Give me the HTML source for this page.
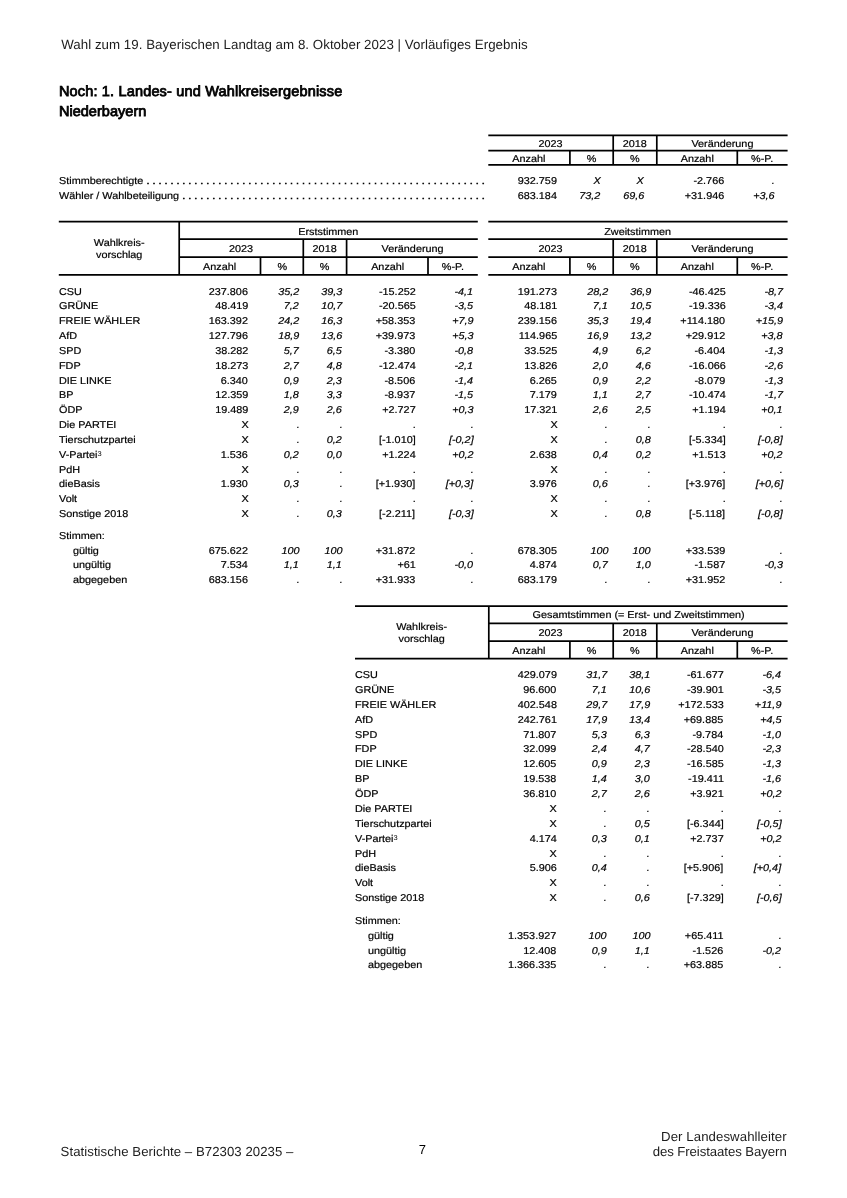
<!DOCTYPE html>
<html lang="de">
<head>
<meta charset="utf-8">
<title>Wahl zum 19. Bayerischen Landtag – Niederbayern</title>
<style>
html,body{margin:0;padding:0;background:#fff}
#pg{position:relative;width:847px;height:1198px;overflow:hidden;background:#fff;color:#000;font-family:"Liberation Sans",sans-serif;font-size:9.95px;line-height:14px;-webkit-text-stroke:.2px #000;text-rendering:geometricPrecision}
#pg div,#pg span{position:absolute;white-space:nowrap}
.hd{left:61.2px;top:36.8px;font-size:13.3px;line-height:16px;color:#1c1c1c;letter-spacing:.04px;-webkit-text-stroke:0}
.t1{left:58.9px;top:83.9px;font-size:14.5px;line-height:16px;-webkit-text-stroke:.8px #000;letter-spacing:.17px}
.t2{left:58.9px;top:104.4px;font-size:14.5px;line-height:16px;-webkit-text-stroke:.8px #000;letter-spacing:.04px}
.ft{font-size:13.2px;line-height:16px;color:#1c1c1c;-webkit-text-stroke:0}
#ln{position:absolute;left:0;top:0}
.r{left:0;width:847px;height:14px}
.r span{transform:scaleX(1.09);transform-origin:100% 50%}
.r .la,.r .lai,.r .lc,.r .lci{transform-origin:0 50%}
.h{text-align:center;height:14px;transform:scaleX(1.09)}
.la{left:59.2px}.lai{left:73.1px}
.lc{left:354.6px}.lci{left:368.2px}
.a1{right:598.7px}.a2{right:547.7px;font-style:italic}.a3{right:504.7px;font-style:italic}.a4{right:431.6px}.a5{right:373.5px;font-style:italic}
.b1{right:289.7px}.b2{right:238.8px;font-style:italic}.b3{right:196.1px;font-style:italic}.b4{right:121.6px}.b5{right:64.2px;font-style:italic}
.c1{right:290.4px}.c2{right:240px;font-style:italic}.c3{right:196.8px;font-style:italic}.c4{right:123.5px}.c5{right:65.7px;font-style:italic}
.s1{right:290.3px}.s2{right:246.6px;font-style:italic}.s3{right:203.1px;font-style:italic}.s4{right:122.6px}.s5{right:72px;font-style:italic}
sup{font-size:6.9px;line-height:0;vertical-align:2.1px;-webkit-text-stroke:0}
.dots{left:59.2px;width:425.7px;height:14px;overflow:hidden}
.dots i{position:absolute;right:0;font-style:normal;-webkit-text-stroke:.5px #000;word-spacing:-.03px;transform:scaleX(1.09);transform-origin:100% 50%}
.dots b{position:absolute;left:0;font-weight:normal;background:#fff;padding-right:2.5px;transform:scaleX(1.09);transform-origin:0 50%}
</style>
</head>
<body>
<div id="pg">
<svg id="ln" width="847" height="1198" viewBox="0 0 847 1198"><path d="M488.3 135.45H787.6M488.3 150.6H787.6M488.3 164.8H787.6M613.2 135.45V164.8M656.8 135.45V164.8M569.9 150.6V164.8M737.3 150.6V164.8M58.8 221.6H477.8M179.2 239.15H477.8M179.2 257.1H477.8M58.8 274.95H477.8M179.2 221.6V274.95M303.3 239.15V274.95M346.6 239.15V274.95M260.5 257.1V274.95M428 257.1V274.95M488.3 221.6H787.6M488.3 239.15H787.6M488.3 257.1H787.6M488.3 274.95H787.6M613.2 239.15V274.95M656.8 239.15V274.95M569.9 257.1V274.95M737.3 257.1V274.95M355 606.1H787.6M488.3 623.4H787.6M488.3 641.1H787.6M355 658.7H787.6M488.8 606.1V658.7M613.2 623.4V658.7M656.8 623.4V658.7M569.9 641.1V658.7M737.3 641.1V658.7" fill="none" stroke="#000" stroke-width="1.7"/></svg>
<div class="hd">Wahl zum 19. Bayerischen Landtag am 8. Oktober 2023 | Vorläufiges Ergebnis</div>
<div class="t1">Noch: 1. Landes- und Wahlkreisergebnisse</div>
<div class="t2">Niederbayern</div>
<div class="h" style="left:488.3px;width:124.9px;top:138px">2023</div>
<div class="h" style="left:613.2px;width:43.6px;top:138px">2018</div>
<div class="h" style="left:656.8px;width:130.8px;top:138px">Veränderung</div>
<div class="h" style="left:488.3px;width:81.6px;top:153px">Anzahl</div>
<div class="h" style="left:569.9px;width:43.3px;top:153px">%</div>
<div class="h" style="left:613.2px;width:43.6px;top:153px">%</div>
<div class="h" style="left:656.8px;width:80.5px;top:153px">Anzahl</div>
<div class="h" style="left:737.3px;width:50.3px;top:153px">%-P.</div>
<div class="dots" style="top:175px"><i>. . . . . . . . . . . . . . . . . . . . . . . . . . . . . . . . . . . . . . . . . . . . . . . . . . . . . . . . . . . . . . . . . . . . . . . .</i><b>Stimmberechtigte</b></div>
<div class="r" style="top:175px"><span class="s1">932.759</span><span class="s2">X</span><span class="s3">X</span><span class="s4">-2.766</span><span class="s5">.</span></div>
<div class="dots" style="top:190px"><i>. . . . . . . . . . . . . . . . . . . . . . . . . . . . . . . . . . . . . . . . . . . . . . . . . . . . . . . . . . . . . . . . . . . . . . . .</i><b>Wähler / Wahlbeteiligung</b></div>
<div class="r" style="top:190px"><span class="s1">683.184</span><span class="s2">73,2</span><span class="s3">69,6</span><span class="s4">+31.946</span><span class="s5">+3,6</span></div>
<div class="h" style="left:58.8px;width:120.4px;top:237px">Wahlkreis-</div>
<div class="h" style="left:58.8px;width:120.4px;top:249px">vorschlag</div>
<div class="h" style="left:179.2px;width:298.6px;top:226px">Erststimmen</div>
<div class="h" style="left:179.2px;width:124.1px;top:243px">2023</div>
<div class="h" style="left:303.3px;width:43.3px;top:243px">2018</div>
<div class="h" style="left:346.6px;width:131.2px;top:243px">Veränderung</div>
<div class="h" style="left:179.2px;width:81.3px;top:261px">Anzahl</div>
<div class="h" style="left:260.5px;width:42.8px;top:261px">%</div>
<div class="h" style="left:303.3px;width:43.3px;top:261px">%</div>
<div class="h" style="left:346.6px;width:81.4px;top:261px">Anzahl</div>
<div class="h" style="left:428px;width:49.8px;top:261px">%-P.</div>
<div class="h" style="left:488.3px;width:299.3px;top:226px">Zweitstimmen</div>
<div class="h" style="left:488.3px;width:124.9px;top:243px">2023</div>
<div class="h" style="left:613.2px;width:43.6px;top:243px">2018</div>
<div class="h" style="left:656.8px;width:130.8px;top:243px">Veränderung</div>
<div class="h" style="left:488.3px;width:81.6px;top:261px">Anzahl</div>
<div class="h" style="left:569.9px;width:43.3px;top:261px">%</div>
<div class="h" style="left:613.2px;width:43.6px;top:261px">%</div>
<div class="h" style="left:656.8px;width:80.5px;top:261px">Anzahl</div>
<div class="h" style="left:737.3px;width:50.3px;top:261px">%-P.</div>
<div class="r" style="top:286px"><span class="la">CSU</span><span class="a1">237.806</span><span class="a2">35,2</span><span class="a3">39,3</span><span class="a4">-15.252</span><span class="a5">-4,1</span></div>
<div class="r" style="top:300px"><span class="la">GRÜNE</span><span class="a1">48.419</span><span class="a2">7,2</span><span class="a3">10,7</span><span class="a4">-20.565</span><span class="a5">-3,5</span></div>
<div class="r" style="top:315px"><span class="la">FREIE WÄHLER</span><span class="a1">163.392</span><span class="a2">24,2</span><span class="a3">16,3</span><span class="a4">+58.353</span><span class="a5">+7,9</span></div>
<div class="r" style="top:330px"><span class="la">AfD</span><span class="a1">127.796</span><span class="a2">18,9</span><span class="a3">13,6</span><span class="a4">+39.973</span><span class="a5">+5,3</span></div>
<div class="r" style="top:345px"><span class="la">SPD</span><span class="a1">38.282</span><span class="a2">5,7</span><span class="a3">6,5</span><span class="a4">-3.380</span><span class="a5">-0,8</span></div>
<div class="r" style="top:360px"><span class="la">FDP</span><span class="a1">18.273</span><span class="a2">2,7</span><span class="a3">4,8</span><span class="a4">-12.474</span><span class="a5">-2,1</span></div>
<div class="r" style="top:375px"><span class="la">DIE LINKE</span><span class="a1">6.340</span><span class="a2">0,9</span><span class="a3">2,3</span><span class="a4">-8.506</span><span class="a5">-1,4</span></div>
<div class="r" style="top:389px"><span class="la">BP</span><span class="a1">12.359</span><span class="a2">1,8</span><span class="a3">3,3</span><span class="a4">-8.937</span><span class="a5">-1,5</span></div>
<div class="r" style="top:404px"><span class="la">ÖDP</span><span class="a1">19.489</span><span class="a2">2,9</span><span class="a3">2,6</span><span class="a4">+2.727</span><span class="a5">+0,3</span></div>
<div class="r" style="top:419px"><span class="la">Die PARTEI</span><span class="a1">X</span><span class="a2">.</span><span class="a3">.</span><span class="a4">.</span><span class="a5">.</span></div>
<div class="r" style="top:434px"><span class="la">Tierschutzpartei</span><span class="a1">X</span><span class="a2">.</span><span class="a3">0,2</span><span class="a4">[-1.010]</span><span class="a5">[-0,2]</span></div>
<div class="r" style="top:449px"><span class="la">V-Partei<sup>3</sup></span><span class="a1">1.536</span><span class="a2">0,2</span><span class="a3">0,0</span><span class="a4">+1.224</span><span class="a5">+0,2</span></div>
<div class="r" style="top:464px"><span class="la">PdH</span><span class="a1">X</span><span class="a2">.</span><span class="a3">.</span><span class="a4">.</span><span class="a5">.</span></div>
<div class="r" style="top:478px"><span class="la">dieBasis</span><span class="a1">1.930</span><span class="a2">0,3</span><span class="a3">.</span><span class="a4">[+1.930]</span><span class="a5">[+0,3]</span></div>
<div class="r" style="top:493px"><span class="la">Volt</span><span class="a1">X</span><span class="a2">.</span><span class="a3">.</span><span class="a4">.</span><span class="a5">.</span></div>
<div class="r" style="top:508px"><span class="la">Sonstige 2018</span><span class="a1">X</span><span class="a2">.</span><span class="a3">0,3</span><span class="a4">[-2.211]</span><span class="a5">[-0,3]</span></div>
<div class="r" style="top:530px"><span class="la">Stimmen:</span></div>
<div class="r" style="top:545px"><span class="lai">gültig</span><span class="a1">675.622</span><span class="a2">100</span><span class="a3">100</span><span class="a4">+31.872</span><span class="a5">.</span></div>
<div class="r" style="top:559px"><span class="lai">ungültig</span><span class="a1">7.534</span><span class="a2">1,1</span><span class="a3">1,1</span><span class="a4">+61</span><span class="a5">-0,0</span></div>
<div class="r" style="top:574px"><span class="lai">abgegeben</span><span class="a1">683.156</span><span class="a2">.</span><span class="a3">.</span><span class="a4">+31.933</span><span class="a5">.</span></div>
<div class="r" style="top:286px"><span class="b1">191.273</span><span class="b2">28,2</span><span class="b3">36,9</span><span class="b4">-46.425</span><span class="b5">-8,7</span></div>
<div class="r" style="top:300px"><span class="b1">48.181</span><span class="b2">7,1</span><span class="b3">10,5</span><span class="b4">-19.336</span><span class="b5">-3,4</span></div>
<div class="r" style="top:315px"><span class="b1">239.156</span><span class="b2">35,3</span><span class="b3">19,4</span><span class="b4">+114.180</span><span class="b5">+15,9</span></div>
<div class="r" style="top:330px"><span class="b1">114.965</span><span class="b2">16,9</span><span class="b3">13,2</span><span class="b4">+29.912</span><span class="b5">+3,8</span></div>
<div class="r" style="top:345px"><span class="b1">33.525</span><span class="b2">4,9</span><span class="b3">6,2</span><span class="b4">-6.404</span><span class="b5">-1,3</span></div>
<div class="r" style="top:360px"><span class="b1">13.826</span><span class="b2">2,0</span><span class="b3">4,6</span><span class="b4">-16.066</span><span class="b5">-2,6</span></div>
<div class="r" style="top:375px"><span class="b1">6.265</span><span class="b2">0,9</span><span class="b3">2,2</span><span class="b4">-8.079</span><span class="b5">-1,3</span></div>
<div class="r" style="top:389px"><span class="b1">7.179</span><span class="b2">1,1</span><span class="b3">2,7</span><span class="b4">-10.474</span><span class="b5">-1,7</span></div>
<div class="r" style="top:404px"><span class="b1">17.321</span><span class="b2">2,6</span><span class="b3">2,5</span><span class="b4">+1.194</span><span class="b5">+0,1</span></div>
<div class="r" style="top:419px"><span class="b1">X</span><span class="b2">.</span><span class="b3">.</span><span class="b4">.</span><span class="b5">.</span></div>
<div class="r" style="top:434px"><span class="b1">X</span><span class="b2">.</span><span class="b3">0,8</span><span class="b4">[-5.334]</span><span class="b5">[-0,8]</span></div>
<div class="r" style="top:449px"><span class="b1">2.638</span><span class="b2">0,4</span><span class="b3">0,2</span><span class="b4">+1.513</span><span class="b5">+0,2</span></div>
<div class="r" style="top:464px"><span class="b1">X</span><span class="b2">.</span><span class="b3">.</span><span class="b4">.</span><span class="b5">.</span></div>
<div class="r" style="top:478px"><span class="b1">3.976</span><span class="b2">0,6</span><span class="b3">.</span><span class="b4">[+3.976]</span><span class="b5">[+0,6]</span></div>
<div class="r" style="top:493px"><span class="b1">X</span><span class="b2">.</span><span class="b3">.</span><span class="b4">.</span><span class="b5">.</span></div>
<div class="r" style="top:508px"><span class="b1">X</span><span class="b2">.</span><span class="b3">0,8</span><span class="b4">[-5.118]</span><span class="b5">[-0,8]</span></div>
<div class="r" style="top:545px"><span class="b1">678.305</span><span class="b2">100</span><span class="b3">100</span><span class="b4">+33.539</span><span class="b5">.</span></div>
<div class="r" style="top:559px"><span class="b1">4.874</span><span class="b2">0,7</span><span class="b3">1,0</span><span class="b4">-1.587</span><span class="b5">-0,3</span></div>
<div class="r" style="top:574px"><span class="b1">683.179</span><span class="b2">.</span><span class="b3">.</span><span class="b4">+31.952</span><span class="b5">.</span></div>
<div class="h" style="left:355px;width:133.3px;top:621px">Wahlkreis-</div>
<div class="h" style="left:355px;width:133.3px;top:633px">vorschlag</div>
<div class="h" style="left:490.3px;width:297.3px;top:609px">Gesamtstimmen (= Erst- und Zweitstimmen)</div>
<div class="h" style="left:488.3px;width:124.9px;top:627px">2023</div>
<div class="h" style="left:613.2px;width:43.6px;top:627px">2018</div>
<div class="h" style="left:656.8px;width:130.8px;top:627px">Veränderung</div>
<div class="h" style="left:488.3px;width:81.6px;top:645px">Anzahl</div>
<div class="h" style="left:569.9px;width:43.3px;top:645px">%</div>
<div class="h" style="left:613.2px;width:43.6px;top:645px">%</div>
<div class="h" style="left:656.8px;width:80.5px;top:645px">Anzahl</div>
<div class="h" style="left:737.3px;width:50.3px;top:645px">%-P.</div>
<div class="r" style="top:669px"><span class="lc">CSU</span><span class="c1">429.079</span><span class="c2">31,7</span><span class="c3">38,1</span><span class="c4">-61.677</span><span class="c5">-6,4</span></div>
<div class="r" style="top:684px"><span class="lc">GRÜNE</span><span class="c1">96.600</span><span class="c2">7,1</span><span class="c3">10,6</span><span class="c4">-39.901</span><span class="c5">-3,5</span></div>
<div class="r" style="top:699px"><span class="lc">FREIE WÄHLER</span><span class="c1">402.548</span><span class="c2">29,7</span><span class="c3">17,9</span><span class="c4">+172.533</span><span class="c5">+11,9</span></div>
<div class="r" style="top:714px"><span class="lc">AfD</span><span class="c1">242.761</span><span class="c2">17,9</span><span class="c3">13,4</span><span class="c4">+69.885</span><span class="c5">+4,5</span></div>
<div class="r" style="top:729px"><span class="lc">SPD</span><span class="c1">71.807</span><span class="c2">5,3</span><span class="c3">6,3</span><span class="c4">-9.784</span><span class="c5">-1,0</span></div>
<div class="r" style="top:743px"><span class="lc">FDP</span><span class="c1">32.099</span><span class="c2">2,4</span><span class="c3">4,7</span><span class="c4">-28.540</span><span class="c5">-2,3</span></div>
<div class="r" style="top:758px"><span class="lc">DIE LINKE</span><span class="c1">12.605</span><span class="c2">0,9</span><span class="c3">2,3</span><span class="c4">-16.585</span><span class="c5">-1,3</span></div>
<div class="r" style="top:773px"><span class="lc">BP</span><span class="c1">19.538</span><span class="c2">1,4</span><span class="c3">3,0</span><span class="c4">-19.411</span><span class="c5">-1,6</span></div>
<div class="r" style="top:788px"><span class="lc">ÖDP</span><span class="c1">36.810</span><span class="c2">2,7</span><span class="c3">2,6</span><span class="c4">+3.921</span><span class="c5">+0,2</span></div>
<div class="r" style="top:803px"><span class="lc">Die PARTEI</span><span class="c1">X</span><span class="c2">.</span><span class="c3">.</span><span class="c4">.</span><span class="c5">.</span></div>
<div class="r" style="top:818px"><span class="lc">Tierschutzpartei</span><span class="c1">X</span><span class="c2">.</span><span class="c3">0,5</span><span class="c4">[-6.344]</span><span class="c5">[-0,5]</span></div>
<div class="r" style="top:833px"><span class="lc">V-Partei<sup>3</sup></span><span class="c1">4.174</span><span class="c2">0,3</span><span class="c3">0,1</span><span class="c4">+2.737</span><span class="c5">+0,2</span></div>
<div class="r" style="top:848px"><span class="lc">PdH</span><span class="c1">X</span><span class="c2">.</span><span class="c3">.</span><span class="c4">.</span><span class="c5">.</span></div>
<div class="r" style="top:862px"><span class="lc">dieBasis</span><span class="c1">5.906</span><span class="c2">0,4</span><span class="c3">.</span><span class="c4">[+5.906]</span><span class="c5">[+0,4]</span></div>
<div class="r" style="top:877px"><span class="lc">Volt</span><span class="c1">X</span><span class="c2">.</span><span class="c3">.</span><span class="c4">.</span><span class="c5">.</span></div>
<div class="r" style="top:892px"><span class="lc">Sonstige 2018</span><span class="c1">X</span><span class="c2">.</span><span class="c3">0,6</span><span class="c4">[-7.329]</span><span class="c5">[-0,6]</span></div>
<div class="r" style="top:915px"><span class="lc">Stimmen:</span></div>
<div class="r" style="top:930px"><span class="lci">gültig</span><span class="c1">1.353.927</span><span class="c2">100</span><span class="c3">100</span><span class="c4">+65.411</span><span class="c5">.</span></div>
<div class="r" style="top:945px"><span class="lci">ungültig</span><span class="c1">12.408</span><span class="c2">0,9</span><span class="c3">1,1</span><span class="c4">-1.526</span><span class="c5">-0,2</span></div>
<div class="r" style="top:959px"><span class="lci">abgegeben</span><span class="c1">1.366.335</span><span class="c2">.</span><span class="c3">.</span><span class="c4">+63.885</span><span class="c5">.</span></div>
<div class="ft" style="left:60.6px;top:1144px;letter-spacing:.05px">Statistische Berichte – B72303 20235 –</div>
<div class="ft" style="left:418.8px;top:1142px;font-size:13px;color:#000">7</div>
<div class="ft" style="right:60.3px;top:1129px;letter-spacing:.09px">Der Landeswahlleiter</div>
<div class="ft" style="right:60.3px;top:1144px;letter-spacing:-.07px">des Freistaates Bayern</div>
</div>
</body>
</html>
